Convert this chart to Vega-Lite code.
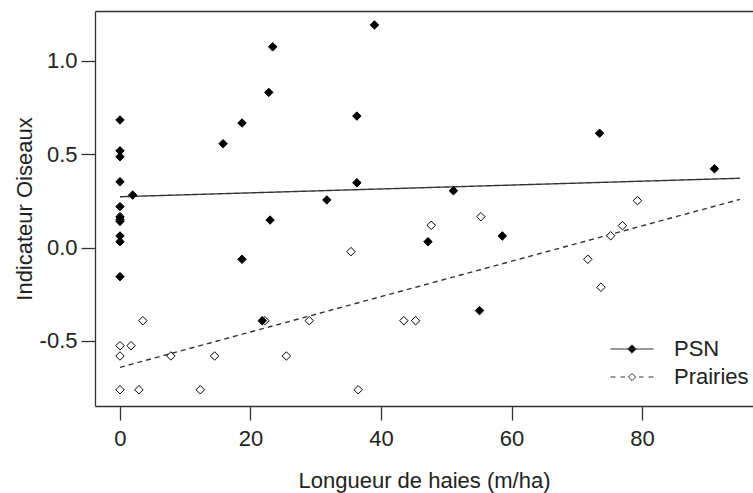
{
  "$schema": "https://vega.github.io/schema/vega-lite/v6.json",
  "width": 658,
  "height": 395,
  "autosize": {"type": "none"},
  "padding": {"left": 95, "top": 11, "right": 0, "bottom": 87},
  "background": "white",
  "config": {
    "view": {"stroke": null},
    "font": "Liberation Sans, Arial, sans-serif",
    "axis": {"grid": false}
  },
  "datasets": {
    "pts": [
      {"group": "Prairies", "x": 0, "y": -0.526},
      {"group": "Prairies", "x": 0, "y": -0.581},
      {"group": "Prairies", "x": 0, "y": -0.762},
      {"group": "Prairies", "x": 1.7, "y": -0.526},
      {"group": "Prairies", "x": 2.9, "y": -0.762},
      {"group": "Prairies", "x": 3.5, "y": -0.392},
      {"group": "Prairies", "x": 7.8, "y": -0.581},
      {"group": "Prairies", "x": 12.3, "y": -0.762},
      {"group": "Prairies", "x": 14.5, "y": -0.581},
      {"group": "Prairies", "x": 22.2, "y": -0.392},
      {"group": "Prairies", "x": 25.5, "y": -0.581},
      {"group": "Prairies", "x": 29.0, "y": -0.392},
      {"group": "Prairies", "x": 35.4, "y": -0.022},
      {"group": "Prairies", "x": 36.5, "y": -0.762},
      {"group": "Prairies", "x": 43.5, "y": -0.392},
      {"group": "Prairies", "x": 45.3, "y": -0.392},
      {"group": "Prairies", "x": 47.7, "y": 0.119},
      {"group": "Prairies", "x": 55.3, "y": 0.165},
      {"group": "Prairies", "x": 71.7, "y": -0.063},
      {"group": "Prairies", "x": 73.7, "y": -0.213},
      {"group": "Prairies", "x": 75.2, "y": 0.063},
      {"group": "Prairies", "x": 77.0, "y": 0.117},
      {"group": "Prairies", "x": 79.3, "y": 0.251},
      {"group": "PSN", "x": 0, "y": 0.683},
      {"group": "PSN", "x": 0, "y": 0.518},
      {"group": "PSN", "x": 0, "y": 0.486},
      {"group": "PSN", "x": 0, "y": 0.352},
      {"group": "PSN", "x": 0, "y": 0.219},
      {"group": "PSN", "x": 0, "y": 0.165},
      {"group": "PSN", "x": 0, "y": 0.15},
      {"group": "PSN", "x": 0, "y": 0.14},
      {"group": "PSN", "x": 0, "y": 0.062},
      {"group": "PSN", "x": 0, "y": 0.031},
      {"group": "PSN", "x": 0, "y": -0.156},
      {"group": "PSN", "x": 1.95, "y": 0.281},
      {"group": "PSN", "x": 15.8, "y": 0.556},
      {"group": "PSN", "x": 18.7, "y": 0.667},
      {"group": "PSN", "x": 18.7, "y": -0.063},
      {"group": "PSN", "x": 21.8, "y": -0.392},
      {"group": "PSN", "x": 22.8, "y": 0.831},
      {"group": "PSN", "x": 23.0, "y": 0.147},
      {"group": "PSN", "x": 23.4, "y": 1.075},
      {"group": "PSN", "x": 31.7, "y": 0.255},
      {"group": "PSN", "x": 36.3, "y": 0.704},
      {"group": "PSN", "x": 36.3, "y": 0.347},
      {"group": "PSN", "x": 39.0, "y": 1.192},
      {"group": "PSN", "x": 47.2, "y": 0.031},
      {"group": "PSN", "x": 51.1, "y": 0.304},
      {"group": "PSN", "x": 55.1, "y": -0.338},
      {"group": "PSN", "x": 58.6, "y": 0.062},
      {"group": "PSN", "x": 73.5, "y": 0.612},
      {"group": "PSN", "x": 91.1, "y": 0.422}
    ],
    "fits": [
      {"group": "PSN", "x": 0, "y": 0.272},
      {"group": "PSN", "x": 95, "y": 0.371},
      {"group": "Prairies", "x": 0, "y": -0.642},
      {"group": "Prairies", "x": 95, "y": 0.258}
    ]
  },
  "layer": [
    {
      "data": {"name": "fits"},
      "mark": {"type": "line", "color": "#333", "strokeWidth": 1.4},
      "encoding": {
        "x": {
          "field": "x", "type": "quantitative",
          "scale": {"domain": [-3.83, 97.01], "nice": false, "zero": false},
          "axis": {"orient": "top", "labels": false, "ticks": false, "domain": true, "domainColor": "#333", "domainWidth": 1.3, "title": null, "grid": false}
        },
        "y": {
          "field": "y", "type": "quantitative",
          "scale": {"domain": [-0.849, 1.267], "nice": false, "zero": false},
          "axis": {"orient": "left", "values": [-0.5, 0, 0.5, 1], "labelExpr": "replace(format(datum.value,'.1f'),'−','-')", "domain": true, "domainColor": "#333", "domainWidth": 1.3, "ticks": true, "tickSize": 14, "tickColor": "#333", "tickWidth": 1.3, "labelFontSize": 22, "labelColor": "#222", "labelPadding": 4, "title": "Indicateur Oiseaux", "titleFontSize": 22, "titleFontWeight": "normal", "titleColor": "#222", "titlePadding": 3, "grid": false, "labelOverlap": false, "labelFlush": false}
        },
        "detail": {"field": "group"},
        "strokeDash": {"field": "group", "type": "nominal", "scale": {"domain": ["Prairies", "PSN"], "range": [[5, 4], [1, 0]]}, "legend": null}
      }
    },
    {
      "data": {"name": "pts"},
      "mark": {"type": "point", "shape": "diamond", "filled": true, "size": 72, "stroke": "black", "strokeWidth": 1, "opacity": 1},
      "encoding": {
        "x": {
          "field": "x", "type": "quantitative",
          "scale": {"domain": [-3.83, 97.01], "nice": false, "zero": false},
          "axis": {"orient": "bottom", "values": [0, 20, 40, 60, 80], "format": "d", "domain": true, "domainColor": "#333", "domainWidth": 1.3, "tickSize": 14, "tickColor": "#333", "tickWidth": 1.3, "labelFontSize": 22, "labelColor": "#222", "labelPadding": 8, "title": "Longueur de haies (m/ha)", "titleFontSize": 22, "titleFontWeight": "normal", "titleColor": "#222", "titlePadding": 21, "labelFlush": false, "labelOverlap": false, "grid": false}
        },
        "y": {
          "field": "y", "type": "quantitative",
          "scale": {"domain": [-0.849, 1.267], "nice": false, "zero": false},
          "axis": {"orient": "left", "values": [-0.5, 0, 0.5, 1], "labelExpr": "replace(format(datum.value,'.1f'),'−','-')", "domain": true, "domainColor": "#333", "domainWidth": 1.3, "ticks": true, "tickSize": 14, "tickColor": "#333", "tickWidth": 1.3, "labelFontSize": 22, "labelColor": "#222", "labelPadding": 4, "title": "Indicateur Oiseaux", "titleFontSize": 22, "titleFontWeight": "normal", "titleColor": "#222", "titlePadding": 3, "grid": false, "labelOverlap": false, "labelFlush": false}
        },
        "fill": {
          "field": "group", "type": "nominal",
          "scale": {"domain": ["PSN", "Prairies"], "range": ["black", "white"]},
          "legend": {
            "orient": "none", "legendX": 526, "legendY": 327, "title": null, "padding": 0,
            "symbolSize": 400, "symbolStrokeColor": "#333", "symbolStrokeWidth": 1, "symbolOpacity": 1,
            "labelFontSize": 22, "labelColor": "#222", "labelOffset": 31, "rowPadding": 6, "labelLimit": 300
          }
        }
      }
    },
    {
      "data": {"name": "fits"},
      "mark": {"type": "point", "opacity": 0, "size": 1},
      "encoding": {
        "x": {
          "field": "x", "type": "quantitative",
          "scale": {"domain": [-3.83, 97.01], "nice": false, "zero": false},
          "axis": null
        },
        "y": {
          "field": "y", "type": "quantitative",
          "scale": {"domain": [-0.849, 1.267], "nice": false, "zero": false},
          "axis": {"orient": "left", "values": [-0.5, 0, 0.5, 1], "labelExpr": "replace(format(datum.value,'.1f'),'−','-')", "domain": true, "domainColor": "#333", "domainWidth": 1.3, "ticks": true, "tickSize": 14, "tickColor": "#333", "tickWidth": 1.3, "labelFontSize": 22, "labelColor": "#222", "labelPadding": 4, "title": "Indicateur Oiseaux", "titleFontSize": 22, "titleFontWeight": "normal", "titleColor": "#222", "titlePadding": 3, "grid": false, "labelOverlap": false, "labelFlush": false}
        },
        "shape": {
          "field": "group", "type": "nominal",
          "scale": {
            "domain": ["PSN", "Prairies"],
            "range": [
              "M-2.15,0L2.15,0M0,-0.42L0.42,0L0,0.42L-0.42,0Z",
              "M-2.15,0L-1.65,0M-1.15,0L-0.7,0M0.7,0L1.15,0M1.65,0L2.15,0M0,-0.36L0.36,0L0,0.36L-0.36,0Z"
            ]
          },
          "legend": {
            "orient": "none", "legendX": 526, "legendY": 327, "title": null, "padding": 0,
            "symbolSize": 400, "symbolStrokeColor": "#333", "symbolStrokeWidth": 1, "symbolOpacity": 1,
            "labelFontSize": 22, "labelColor": "#222", "labelOffset": 31, "rowPadding": 6, "labelLimit": 300
          }
        }
      }
    }
  ],
  "resolve": {"axis": {"x": "independent"}}
}
